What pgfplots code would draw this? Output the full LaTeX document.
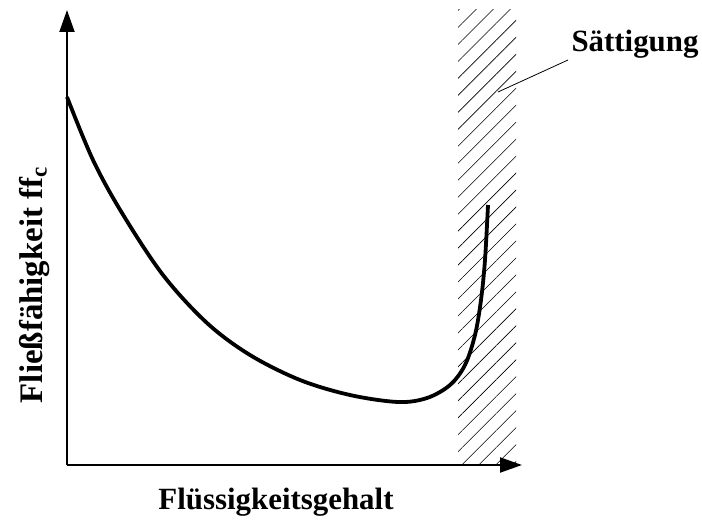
\documentclass[border=0pt]{standalone}
\usepackage{pgfplots}
\pgfplotsset{compat=1.18}
\usepackage{fontspec}
\setmainfont{Liberation Serif}
\usetikzlibrary{arrows.meta,patterns.meta}
\begin{document}
\begin{tikzpicture}
\begin{axis}[
  x=1bp, y=1bp,
  xmin=0, xmax=455, ymin=0, ymax=455,
  axis lines=left,
  axis line style={line width=2bp, -{Triangle[length=22bp,width=15bp]}},
  xtick=\empty, ytick=\empty,
  clip=false,
  xlabel={\fontsize{31}{33}\selectfont\bfseries Flüssigkeitsgehalt},
  ylabel={\fontsize{33}{35}\selectfont\bfseries Fließfähigkeit ff$_\mathbf{c}$},
  xlabel style={at={(axis cs:209,-37)}, anchor=center},
  ylabel style={at={(axis cs:-32,180)}, anchor=center},
]
\path (axis cs:-67,-54) -- (axis cs:635,465);
\fill[pattern={Lines[angle=45,distance=12bp,line width=0.6bp]}] (axis cs:391,0) rectangle (axis cs:449,455);
\addplot[line width=3.8bp, smooth, tension=0.55] coordinates {
(0,368) (26,305) (55,252) (96,190) (140,142) (183,110) (233,85) (283,70) (331,63) (360,67) (383,80) (398,100) (408,130) (414,165) (418,205) (421,260)
};
\draw[line width=0.8bp] (axis cs:431,373) -- (axis cs:501,405);
\node[anchor=base, font=\fontsize{31}{33}\selectfont\bfseries] at (axis cs:568,413) {Sättigung};
\end{axis}
\end{tikzpicture}
\end{document}
